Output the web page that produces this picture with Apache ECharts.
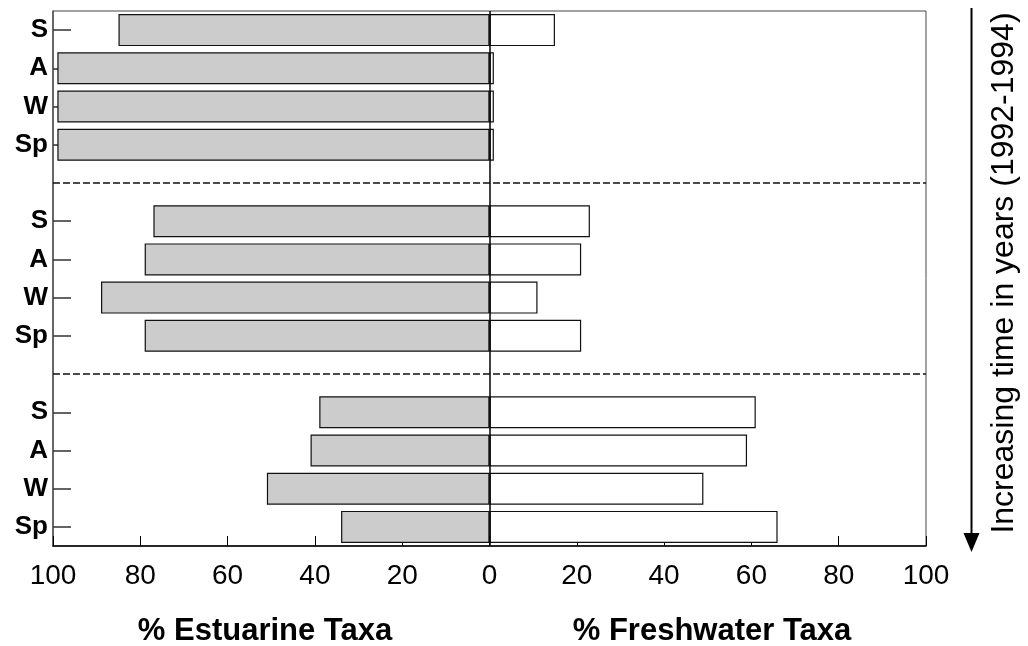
<!DOCTYPE html>
<html>
<head>
<meta charset="utf-8">
<script src="https://cdn.jsdelivr.net/npm/echarts@6/dist/echarts.min.js"></script>
<style>
  html, body { margin: 0; padding: 0; background: #fff; }
  #chart { width: 1028px; height: 646px; }
</style>
</head>
<body>
<div id="chart"></div>
<script>
// Season rows, top to bottom; blank rows separate the three years
var rowLabels = ['S', 'A', 'W', 'Sp', '', 'S', 'A', 'W', 'Sp', '', 'S', 'A', 'W', 'Sp'];
// Percent of estuarine taxa per season (drawn to the left of zero)
var estuarinePct = [85, 99, 99, 99, null, 77, 79, 89, 79, null, 39, 41, 51, 34];
// Percent of freshwater taxa per season (drawn to the right of zero)
var freshwaterPct = [15, 1, 1, 1, null, 23, 21, 11, 21, null, 61, 59, 49, 66];
// Value-axis ticks
var xTicks = { min: -100, max: 100, step: 20 };
// Rows holding the year separators
var separatorRows = [4, 9];

var FONT = '"Liberation Sans", Arial, Helvetica, sans-serif';
var chart = echarts.init(document.getElementById('chart'), null, { renderer: 'canvas' });

var markLines = separatorRows.map(function (r) {
  return { yAxis: r, lineStyle: { type: [7, 3], color: '#111', width: 1.6 } };
});
markLines.push({ xAxis: 0, lineStyle: { type: 'solid', color: '#000', width: 1.5 } });

chart.setOption({
  animation: false,
  backgroundColor: '#fff',
  grid: {
    left: 53, right: 102, top: 11, bottom: 100,
    show: true, borderColor: '#444', borderWidth: 1, backgroundColor: 'transparent'
  },
  xAxis: {
    type: 'value',
    min: xTicks.min, max: xTicks.max, interval: xTicks.step,
    axisLine: { show: true, onZero: false, lineStyle: { color: '#000', width: 1.5 } },
    axisTick: { show: true, inside: true, length: 10, lineStyle: { color: '#000', width: 1 } },
    splitLine: { show: false },
    axisLabel: {
      margin: 16, fontSize: 28, color: '#000', fontFamily: FONT,
      formatter: function (v) { return String(Math.abs(v)); }
    }
  },
  yAxis: {
    type: 'category',
    inverse: true,
    data: rowLabels,
    axisLine: { show: true, onZero: false, lineStyle: { color: '#555', width: 1.5 } },
    axisTick: {
      show: true, inside: true, length: 18, alignWithLabel: true,
      interval: function (i) { return rowLabels[i] !== ''; },
      lineStyle: { color: '#333', width: 1.5 }
    },
    axisLabel: {
      margin: 5, fontSize: 26, fontWeight: 'bold', color: '#000', fontFamily: FONT,
      interval: 0
    },
    splitLine: { show: false }
  },
  series: [
    {
      name: 'Estuarine',
      type: 'bar',
      stack: 'taxa',
      barWidth: 32,
      data: estuarinePct.map(function (v) { return v == null ? null : -v; }),
      itemStyle: { color: '#cccccc', borderColor: '#111', borderWidth: 1.2 },
      markLine: {
        silent: true,
        symbol: 'none',
        label: { show: false },
        data: markLines
      }
    },
    {
      name: 'Freshwater',
      type: 'bar',
      stack: 'taxa',
      barWidth: 32,
      data: freshwaterPct,
      itemStyle: { color: '#ffffff', borderColor: '#111', borderWidth: 1.2 }
    }
  ],
  graphic: [
    {
      type: 'text', x: 265, y: 631,
      style: {
        text: '% Estuarine Taxa', font: 'bold 31px ' + FONT, fill: '#000',
        align: 'center', verticalAlign: 'middle'
      }
    },
    {
      type: 'text', x: 712, y: 631,
      style: {
        text: '% Freshwater Taxa', font: 'bold 31px ' + FONT, fill: '#000',
        align: 'center', verticalAlign: 'middle'
      }
    },
    {
      type: 'line',
      shape: { x1: 971.5, y1: 8, x2: 971.5, y2: 536 },
      style: { stroke: '#000', lineWidth: 2 }
    },
    {
      type: 'polygon',
      shape: { points: [[963.5, 533], [979.5, 533], [971.5, 552]] },
      style: { fill: '#000' }
    },
    {
      type: 'text', x: 1004, y: 273, rotation: Math.PI / 2,
      style: {
        text: 'Increasing time in years (1992-1994)', font: '32px ' + FONT, fill: '#000',
        align: 'center', verticalAlign: 'middle'
      }
    }
  ]
});
</script>
</body>
</html>
